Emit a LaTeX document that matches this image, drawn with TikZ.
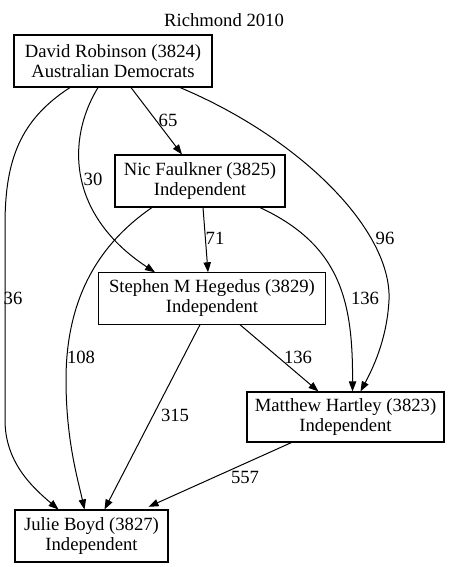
\documentclass[tikz,border=0pt]{standalone}
\usepackage{fontspec}
\setmainfont{Liberation Serif}
\usetikzlibrary{arrows.meta}

\begin{document}
\begin{tikzpicture}[x=0.75pt, y=-0.75pt,
  cand/.style={draw, line width=0.8pt, rectangle, align=center, inner sep=0pt,
    font=\fontsize{14}{15}\selectfont},
  lbl/.style={inner sep=0pt, font=\fontsize{14}{15}\selectfont},
  edge/.style={-{Triangle[length=7.5pt, width=5.5pt]}, line width=0.75pt}]
\useasboundingbox (0,0) rectangle (449,567);

\node[lbl] (title) at (224,20) {Richmond 2010};

\node[cand, minimum width=148.5pt, minimum height=39pt] (robinson) at (113,61)
  {David Robinson (3824)\\Australian Democrats};
\node[cand, minimum width=127.5pt, minimum height=39pt] (faulkner) at (200,181)
  {Nic Faulkner (3825)\\Independent};
\node[cand, minimum width=170pt, minimum height=38.5pt] (hegedus) at (212,298.5)
  {Stephen M Hegedus (3829)\\Independent};
\node[cand, minimum width=147.75pt, minimum height=37.5pt] (hartley) at (345.5,417)
  {Matthew Hartley (3823)\\Independent};
\node[cand, minimum width=114.75pt, minimum height=39pt] (boyd) at (91.5,536)
  {Julie Boyd (3827)\\Independent};

% from Robinson
\draw[edge] ([xshift=13.5pt]robinson.south) -- ([xshift=-13.5pt]faulkner.north);
\draw[edge] ([xshift=-11.25pt]robinson.south) .. controls (66,140) and (68,215) .. ([xshift=-42.75pt]hegedus.north);
\draw[edge] ([xshift=-32.25pt]robinson.south) .. controls (20,120) and (5,160) .. (5,225)
  -- (5,420) .. controls (5,462) and (32,487) .. ([xshift=-24.75pt]boyd.north);
\draw[edge] ([xshift=50.25pt]robinson.south) .. controls (300,138) and (392,230) .. (389,300)
  .. controls (387,340) and (372,370) .. ([xshift=11.25pt]hartley.north);

% from Faulkner
\draw[edge] ([xshift=2.25pt]faulkner.south) -- ([xshift=-3pt]hegedus.north);
\draw[edge] ([xshift=-36pt]faulkner.south) .. controls (90,250) and (66,310) .. (66,380)
  .. controls (66,440) and (78,480) .. ([xshift=-5.25pt]boyd.north);
\draw[edge] ([xshift=45pt]faulkner.south) .. controls (340,245) and (353,300) .. ([xshift=5.25pt]hartley.north);

% from Hegedus
\draw[edge] ([xshift=21pt]hegedus.south) -- ([xshift=-20.25pt]hartley.north);
\draw[edge] ([xshift=-9pt]hegedus.south) -- ([xshift=9.75pt]boyd.north);

% from Hartley
\draw[edge] ([xshift=-40.5pt]hartley.south) -- ([xshift=42.75pt, yshift=2pt]boyd.north);

\node[lbl] (v65) at (168,120) {65};
\node[lbl] (v30) at (93,179) {30};
\node[lbl] (v36) at (13,298) {36};
\node[lbl] (v96) at (385,238) {96};
\node[lbl] (v71) at (215,238) {71};
\node[lbl] (v136a) at (365,298) {136};
\node[lbl] (v108) at (81,357) {108};
\node[lbl] (v136b) at (298,357) {136};
\node[lbl] (v315) at (175,415) {315};
\node[lbl] (v557) at (245,477) {557};
\end{tikzpicture}
\end{document}
